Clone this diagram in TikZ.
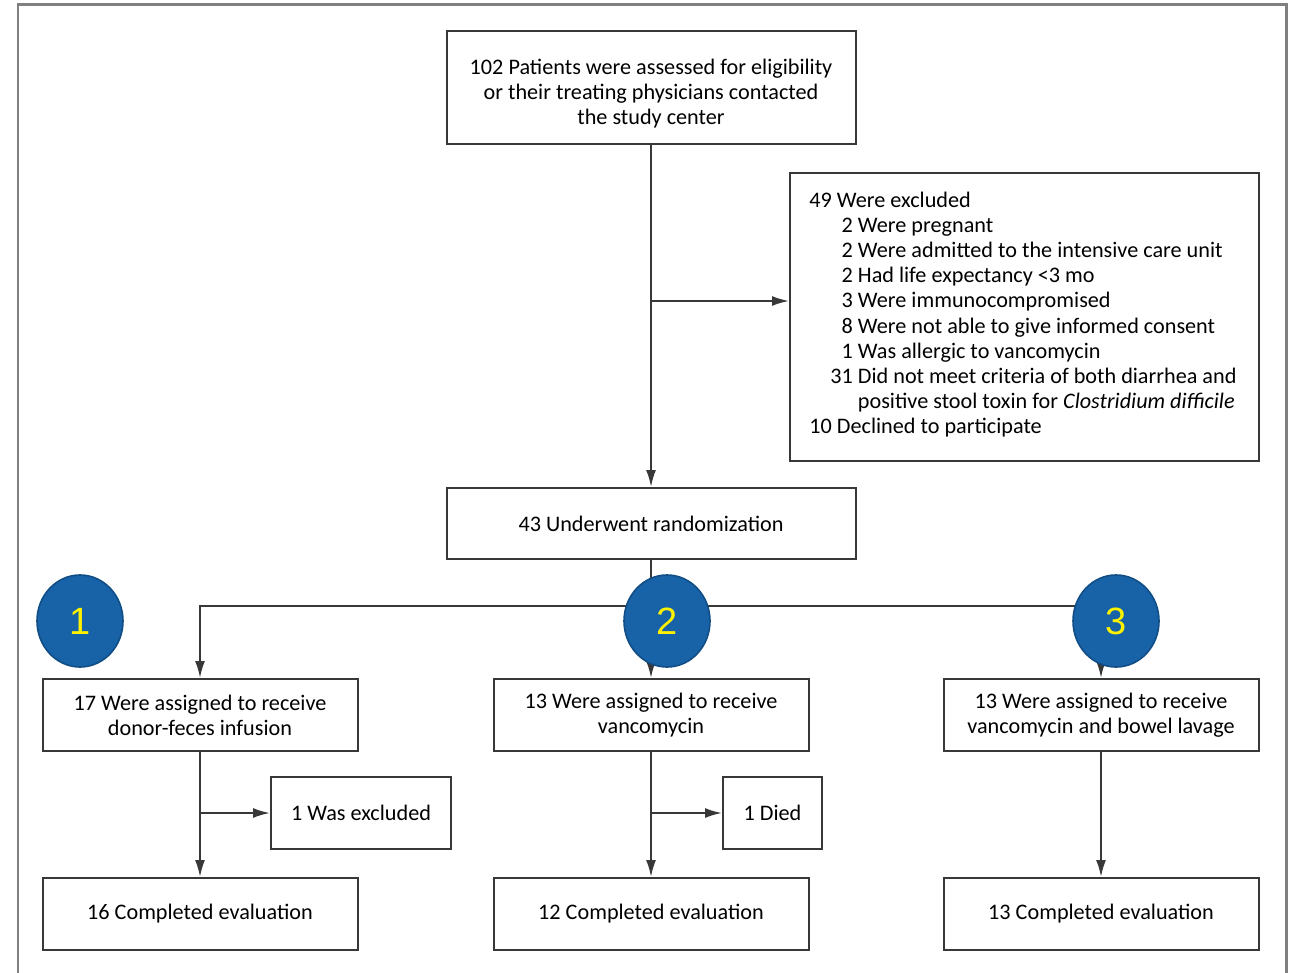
\documentclass[tikz,border=0pt]{standalone}
\usepackage{fontspec}
\setmainfont{Carlito}
\newfontfamily\circfont{Liberation Sans}
\usepackage{tikz}
\usetikzlibrary{arrows.meta,shapes.geometric}

\definecolor{badgeblue}{HTML}{1862A8}
\definecolor{badgeedge}{HTML}{124E86}

\begin{document}
\begin{tikzpicture}[x=0.5pt,y=-0.5pt,
    >={Latex[length=8.5pt,width=5pt]},
    flowbox/.style={draw=black!78, line width=1pt, inner sep=0pt, align=center,
      font=\fontsize{11.1}{12.6}\selectfont},
    armbox/.style={flowbox, minimum width=157.5pt, minimum height=36pt},
    smallbox/.style={flowbox, minimum height=36pt},
    conn/.style={draw=black!78, line width=1pt},
    badge/.style={ellipse, fill=badgeblue, draw=badgeedge, line width=0.8pt,
      minimum width=43pt, minimum height=46pt, inner sep=0pt,
      text=yellow, font=\circfont\fontsize{19}{19}\selectfont}]
    \useasboundingbox (0,0) rectangle (1294,973);
    % outer frame, bottom edge cut off
    \draw[black!50, line width=1.3pt] (18,973) -- (18,4.5) -- (1286.5,4.5) -- (1286.5,973);

    \node[flowbox, minimum width=204.5pt, minimum height=56.5pt] (top) at (651,87.5)
      {\rule{0pt}{14pt}102 Patients were assessed for eligibility\\or their treating physicians contacted\\the study center};
    \node[flowbox, minimum width=234.5pt, minimum height=144pt, anchor=north west] (excl) at (789,172) {};
    \node[anchor=north west, inner sep=0pt, font=\fontsize{11.1}{12.6}\selectfont] (excltxt) at (809,189)
      {\begin{tabular}{@{}p{10.5pt}@{}r@{\ }l@{}}
        \multicolumn{3}{@{}l@{}}{49 Were excluded}\\
        & 2 & Were pregnant\\
        & 2 & Were admitted to the intensive care unit\\
        & 2 & Had life expectancy <3 mo\\
        & 3 & Were immunocompromised\\
        & 8 & Were not able to give informed consent\\
        & 1 & Was allergic to vancomycin\\
        & 31 & Did not meet criteria of both diarrhea and\\
        & & positive stool toxin for \textit{Clostridium difficile}\\
        \multicolumn{3}{@{}l@{}}{10 Declined to participate}
      \end{tabular}};
    \node[flowbox, minimum width=204.5pt, minimum height=35.5pt] (rand) at (651,523.5) {43 Underwent randomization};

    \node[armbox] (a1) at (200,715) {17 Were assigned to receive\\donor-feces infusion};
    \node[armbox] (a2) at (651,715) {13 Were assigned to receive\\vancomycin};
    \node[armbox] (a3) at (1101,715) {13 Were assigned to receive\\vancomycin and bowel lavage};

    \node[smallbox, minimum width=90pt] (ex1) at (361,813) {1 Was excluded};
    \node[smallbox, minimum width=49.5pt] (ex2) at (772.5,813) {1 Died};

    \node[armbox] (c1) at (200,914) {16 Completed evaluation};
    \node[armbox] (c2) at (651,914) {12 Completed evaluation};
    \node[armbox] (c3) at (1101,914) {13 Completed evaluation};

    % connectors
    \coordinate (bx) at (651,301);
    \coordinate (split) at (651,606);
    \draw[conn][->] (top) -- (rand);
    \draw[conn][->] (bx) -- (bx -| excl.west);
    \draw[conn] (rand) -- (split);
    \draw[conn][->] (split) -| (a1.north);
    \draw[conn][->] (split) -- (a2.north);
    \draw[conn][->] (split) -| (a3.north);
    \draw[conn][->] (a1) -- (c1);
    \draw[conn][->] (a1.south |- ex1) -- (ex1.west);
    \draw[conn][->] (a2) -- (c2);
    \draw[conn][->] (a2.south |- ex2) -- (ex2.west);
    \draw[conn][->] (a3) -- (c3);

    % numbered badges
    \node[badge] (n1) at (80,621) {1};
    \node[badge] (n2) at (667,621) {2};
    \node[badge] (n3) at (1116,621) {3};
\end{tikzpicture}
\end{document}
